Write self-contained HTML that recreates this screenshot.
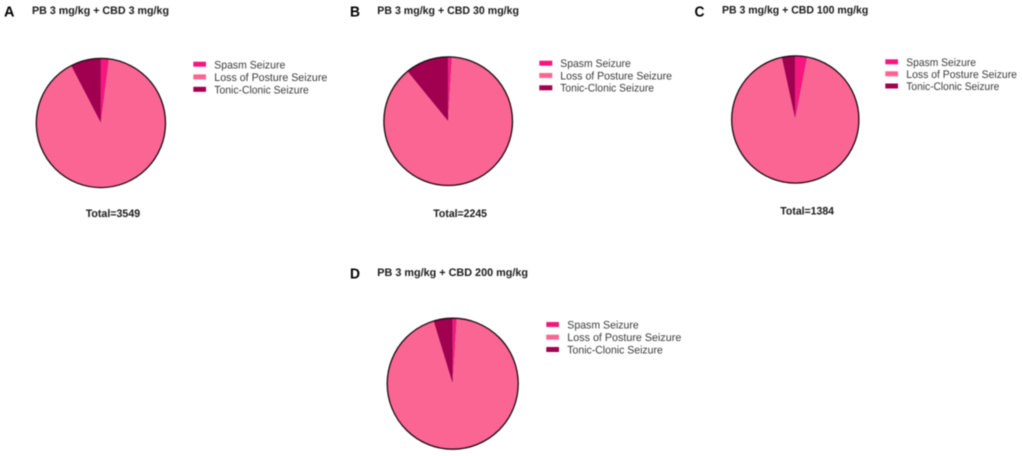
<!DOCTYPE html>
<html lang="en">
<head>
<meta charset="utf-8">
<title>Seizure type distribution pie charts</title>
<style>
html,body{margin:0;padding:0;background:#fff;width:1022px;height:456px;overflow:hidden}
svg{display:block;filter:blur(0.4px)}
text{font-family:"Liberation Sans",Arial,sans-serif;text-rendering:geometricPrecision}
.letter{font-size:14.5px;font-weight:700;fill:#000}
.title{font-size:10.9px;font-weight:700;fill:#1a1a1a}
.total{font-size:10.9px;font-weight:700;fill:#1a1a1a}
.leg{font-size:11px;fill:#3a3a3a}
</style>
</head>
<body>
<svg id="figure" width="1022" height="456" viewBox="0 0 1022 456" xmlns="http://www.w3.org/2000/svg">
  <rect width="1022" height="456" fill="#fff"/>

  <g>
    <text class="letter" x="4" y="16.5" textLength="10.5" lengthAdjust="spacingAndGlyphs">A</text>
    <text class="title" x="32" y="14" textLength="137" lengthAdjust="spacingAndGlyphs">PB 3 mg/kg + CBD 3 mg/kg</text>
    <g id="pie-a"></g>
    <g>
      <rect x="193.3" y="61.7" width="12.7" height="5" fill="#f5177f"/>
      <text class="leg" x="214.3" y="68.3" textLength="71" lengthAdjust="spacingAndGlyphs">Spasm Seizure</text>
      <rect x="193.3" y="74.4" width="12.7" height="5" fill="#fb6593"/>
      <text class="leg" x="214.3" y="81" textLength="113" lengthAdjust="spacingAndGlyphs">Loss of Posture Seizure</text>
      <rect x="193.3" y="86.8" width="12.7" height="5" fill="#a10050"/>
      <text class="leg" x="214.3" y="93.3" textLength="94.5" lengthAdjust="spacingAndGlyphs">Tonic-Clonic Seizure</text>
    </g>
    <text class="total" x="85.7" y="217" textLength="54.5" lengthAdjust="spacingAndGlyphs">Total=3549</text>
  </g>

  <g>
    <text class="letter" x="350" y="16.5" textLength="10" lengthAdjust="spacingAndGlyphs">B</text>
    <text class="title" x="377.3" y="14" textLength="141.7" lengthAdjust="spacingAndGlyphs">PB 3 mg/kg + CBD 30 mg/kg</text>
    <g id="pie-b"></g>
    <g>
      <rect x="539.3" y="60.7" width="13" height="5" fill="#f5177f"/>
      <text class="leg" x="560.3" y="67" textLength="70.5" lengthAdjust="spacingAndGlyphs">Spasm Seizure</text>
      <rect x="539.3" y="73" width="13" height="5" fill="#fb6593"/>
      <text class="leg" x="560.3" y="79.3" textLength="111.7" lengthAdjust="spacingAndGlyphs">Loss of Posture Seizure</text>
      <rect x="539.3" y="85.3" width="13" height="5" fill="#a10050"/>
      <text class="leg" x="560.3" y="91.6" textLength="93.7" lengthAdjust="spacingAndGlyphs">Tonic-Clonic Seizure</text>
    </g>
    <text class="total" x="433.3" y="217" textLength="53.7" lengthAdjust="spacingAndGlyphs">Total=2245</text>
  </g>

  <g>
    <text class="letter" x="694.5" y="16.5" textLength="10" lengthAdjust="spacingAndGlyphs">C</text>
    <text class="title" x="722" y="13.3" textLength="146.3" lengthAdjust="spacingAndGlyphs">PB 3 mg/kg + CBD 100 mg/kg</text>
    <g id="pie-c"></g>
    <g>
      <rect x="885.3" y="59.3" width="12.7" height="5" fill="#f5177f"/>
      <text class="leg" x="906.3" y="66" textLength="69.7" lengthAdjust="spacingAndGlyphs">Spasm Seizure</text>
      <rect x="885.3" y="71.3" width="12.7" height="5" fill="#fb6593"/>
      <text class="leg" x="906.3" y="78" textLength="110.7" lengthAdjust="spacingAndGlyphs">Loss of Posture Seizure</text>
      <rect x="885.3" y="83.5" width="12.7" height="5" fill="#a10050"/>
      <text class="leg" x="906.3" y="90" textLength="93" lengthAdjust="spacingAndGlyphs">Tonic-Clonic Seizure</text>
    </g>
    <text class="total" x="780.3" y="214.3" textLength="53.7" lengthAdjust="spacingAndGlyphs">Total=1384</text>
  </g>

  <g>
    <text class="letter" x="350" y="278.7" textLength="10" lengthAdjust="spacingAndGlyphs">D</text>
    <text class="title" x="377.3" y="276" textLength="150.7" lengthAdjust="spacingAndGlyphs">PB 3 mg/kg + CBD 200 mg/kg</text>
    <g id="pie-d"></g>
    <g>
      <rect x="546.3" y="322" width="12.7" height="5" fill="#f5177f"/>
      <text class="leg" x="567.3" y="328.7" textLength="71.5" lengthAdjust="spacingAndGlyphs">Spasm Seizure</text>
      <rect x="546.3" y="334.7" width="12.7" height="5" fill="#fb6593"/>
      <text class="leg" x="567.3" y="341" textLength="114" lengthAdjust="spacingAndGlyphs">Loss of Posture Seizure</text>
      <rect x="546.3" y="347" width="12.7" height="5" fill="#a10050"/>
      <text class="leg" x="567.3" y="353.5" textLength="95.5" lengthAdjust="spacingAndGlyphs">Tonic-Clonic Seizure</text>
    </g>
  </g>
</svg>
<script>
// Seizure share (%) per panel; order: spasm, loss of posture, tonic-clonic
var seriesNames = ['spasm', 'loss-of-posture', 'tonic-clonic'];
var panelA = [2.0, 90.4, 7.6];
var panelB = [0.9, 88.2, 10.9];
var panelC = [3.0, 93.6, 3.4];
var panelD = [1.0, 94.3, 4.7];

var sliceColors = ['#f5177f', '#fb6593', '#a10050'];
var NS = 'http://www.w3.org/2000/svg';

function angleScale(value, total) {
  return value / total * Math.PI * 2;
}
function pointAt(cx, cy, r, a) {
  return [cx + r * Math.sin(a), cy - r * Math.cos(a)];
}
function drawPie(groupId, values, cx, cy, r) {
  var g = document.getElementById(groupId);
  var total = values.reduce(function (s, v) { return s + v; }, 0);
  var start = 0;
  values.forEach(function (v, i) {
    var end = start + angleScale(v, total);
    var p0 = pointAt(cx, cy, r, start);
    var p1 = pointAt(cx, cy, r, end);
    var large = end - start > Math.PI ? 1 : 0;
    var path = document.createElementNS(NS, 'path');
    path.setAttribute('d', 'M' + cx + ' ' + cy + 'L' + p0[0] + ' ' + p0[1] + 'A' + r + ' ' + r + ' 0 ' + large + ' 1 ' + p1[0] + ' ' + p1[1] + 'Z');
    path.setAttribute('fill', sliceColors[i]);
    
    
    g.appendChild(path);
    start = end;
  });
  var ring = document.createElementNS(NS, 'circle');
  ring.setAttribute('cx', cx);
  ring.setAttribute('cy', cy);
  ring.setAttribute('r', r);
  ring.setAttribute('fill', 'none');
  ring.setAttribute('stroke', '#1a0a10');
  ring.setAttribute('stroke-width', '1.3');
  
  
  g.appendChild(ring);
}
drawPie('pie-a', panelA, 100.9, 123, 64.6);
drawPie('pie-b', panelB, 448.2, 121.2, 64.3);
drawPie('pie-c', panelC, 795.3, 119.5, 63.6);
drawPie('pie-d', panelD, 452.7, 383.7, 65.5);
</script>
</body>
</html>
